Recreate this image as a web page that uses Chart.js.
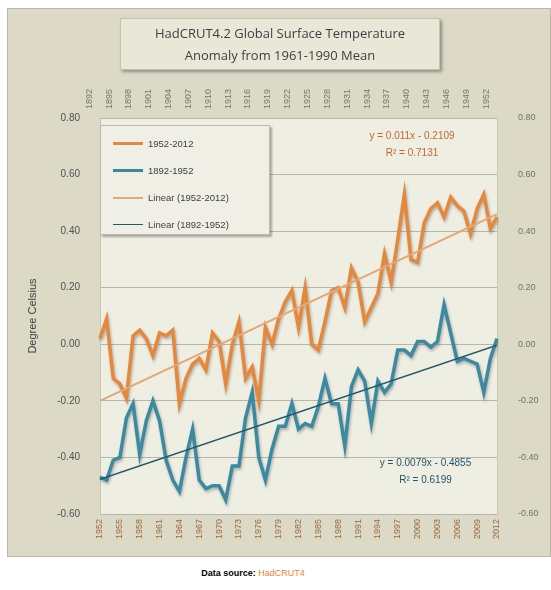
<!DOCTYPE html>
<html>
<head>
<meta charset="utf-8">
<script src="https://cdn.jsdelivr.net/npm/chart.js@4/dist/chart.umd.min.js"></script>
<style>
  html, body { margin: 0; padding: 0; background: #ffffff; width: 551px; height: 590px; overflow: hidden; }
  #panel { position: absolute; left: 7px; top: 8px; width: 544px; height: 549px; box-sizing: border-box;
           background: #dcd9c6; border: 1px solid #b9b6a4; }
  #cv { position: absolute; left: 0; top: 0; }
  #title { position: absolute; left: 120px; top: 18px; width: 320px; height: 52px; box-sizing: border-box;
           background: #e9e7d8; border: 1px solid #c6c2ae; box-shadow: 2px 2px 3px rgba(0,0,0,0.35);
           font-family: "Open Sans", "Liberation Sans", sans-serif; font-size: 13px; color: #3f3f3f;
           text-align: center; line-height: 22px; padding-top: 3px; }
  #legend { position: absolute; left: 100px; top: 125px; width: 170px; height: 110px; box-sizing: border-box;
            background: #f0efe5; border: 1px solid #bdbaa9; box-shadow: 2px 2px 2px rgba(0,0,0,0.3);
            font-family: "Liberation Sans", sans-serif; font-size: 9.5px; color: #404040; padding-top: 4px; }
  .lrow { height: 27px; display: flex; align-items: center; }
  .lsw { width: 30px; margin-left: 12px; margin-right: 5px; }
  .eq { position: absolute; font-family: "Liberation Sans", sans-serif; font-size: 10px; text-align: center; line-height: 17px; }
  #src { position: absolute; left: 0; width: 506px; top: 568px; text-align: center;
         font-family: "Liberation Sans", sans-serif; font-size: 9px; }
</style>
</head>
<body>
<div id="panel"><canvas id="cv" width="542" height="547"></canvas></div>
<div id="title">HadCRUT4.2 Global Surface Temperature<br>Anomaly from 1961-1990 Mean</div>
<div id="legend"></div>
<div class="eq" id="eq1" style="left:352px; top:127px; width:120px; color:#c2672c;">y = 0.011x - 0.2109<br>R² = 0.7131</div>
<div class="eq" id="eq2" style="left:358px; top:454px; width:135px; color:#24566a;">y = 0.0079x - 0.4855<br>R² = 0.6199</div>
<div id="src"><b style="color:#000">Data source:</b> <span style="color:#e8843a">HadCRUT4</span></div>
<script>
// ---- data ----
const recentYears = [1952,1953,1954,1955,1956,1957,1958,1959,1960,1961,1962,1963,1964,1965,1966,1967,1968,1969,1970,1971,
  1972,1973,1974,1975,1976,1977,1978,1979,1980,1981,1982,1983,1984,1985,1986,1987,1988,1989,1990,1991,
  1992,1993,1994,1995,1996,1997,1998,1999,2000,2001,2002,2003,2004,2005,2006,2007,2008,2009,2010,2011,2012];
const earlyYears = [1892,1893,1894,1895,1896,1897,1898,1899,1900,1901,1902,1903,1904,1905,1906,1907,1908,1909,1910,1911,
  1912,1913,1914,1915,1916,1917,1918,1919,1920,1921,1922,1923,1924,1925,1926,1927,1928,1929,1930,1931,
  1932,1933,1934,1935,1936,1937,1938,1939,1940,1941,1942,1943,1944,1945,1946,1947,1948,1949,1950,1951,1952];
const recentAnomaly = [0.02,0.09,-0.12,-0.14,-0.19,0.03,0.05,0.02,-0.04,0.04,0.03,0.05,-0.21,-0.12,-0.07,-0.05,-0.09,0.04,0.01,-0.14,
  0.00,0.08,-0.12,-0.08,-0.20,0.06,0.00,0.09,0.15,0.19,0.06,0.20,0.00,-0.02,0.08,0.19,0.20,0.13,0.27,0.22,
  0.08,0.13,0.18,0.32,0.22,0.37,0.53,0.30,0.29,0.43,0.48,0.50,0.45,0.52,0.49,0.47,0.39,0.48,0.53,0.41,0.45];
const earlyAnomaly = [-0.47,-0.48,-0.41,-0.40,-0.26,-0.21,-0.39,-0.27,-0.20,-0.27,-0.41,-0.48,-0.52,-0.40,-0.30,-0.48,-0.51,-0.50,-0.50,-0.55,
  -0.43,-0.43,-0.26,-0.17,-0.40,-0.48,-0.37,-0.29,-0.29,-0.21,-0.30,-0.28,-0.29,-0.22,-0.12,-0.21,-0.21,-0.36,-0.15,-0.09,
  -0.13,-0.28,-0.13,-0.17,-0.14,-0.02,-0.02,-0.04,0.01,0.01,-0.01,0.01,0.14,0.04,-0.06,-0.05,-0.06,-0.07,-0.17,-0.05,0.02];
// trendline coefficients as printed on the chart (x = 1 .. 61)
const recentTrend = { slope: 0.011, intercept: -0.2109 };
const earlyTrend = { slope: 0.0079, intercept: -0.4855 };
const yTicks = [-0.6, -0.4, -0.2, 0, 0.2, 0.4, 0.6, 0.8];
const seriesNames = ['1952-2012', '1892-1952', 'Linear (1952-2012)', 'Linear (1892-1952)'];

const n = recentYears.length;
function trendPts(t) {
  return [{x: 0, y: t.slope * 1 + t.intercept}, {x: n - 1, y: t.slope * n + t.intercept}];
}

const colors = ['#e5883b', '#3b8aa2', '#e3a877', '#22596a'];
const widths = [3.5, 3.5, 2, 1.5];

const plotBg = {
  id: 'plotBg',
  beforeDraw(chart) {
    const {ctx, chartArea: a} = chart;
    ctx.save();
    ctx.fillStyle = '#efeee3';
    ctx.fillRect(a.left, a.top, a.right - a.left, a.bottom - a.top);
    ctx.strokeStyle = '#c9c6b6';
    ctx.lineWidth = 1;
    ctx.strokeRect(a.left + 0.5, a.top + 0.5, a.right - a.left, a.bottom - a.top);
    ctx.restore();
  },
  beforeDatasetDraw(chart, args) {
    const ctx = chart.ctx;
    ctx.save();
    if (args.index < 2) {
      ctx.shadowColor = 'rgba(0,0,0,0.28)';
      ctx.shadowBlur = 3;
      ctx.shadowOffsetX = 1;
      ctx.shadowOffsetY = 2;
    }
  },
  afterDatasetDraw(chart) { chart.ctx.restore(); }
};

const xTickCb = (labels) => function(val, idx) { return idx % 3 === 0 ? String(labels[idx]) : null; };

new Chart(document.getElementById('cv'), {
  type: 'line',
  data: {
    labels: recentYears,
    datasets: [
      { label: seriesNames[0], data: recentAnomaly, borderColor: colors[0], borderWidth: widths[0], pointRadius: 0, tension: 0, order: 2, xAxisID: 'x', yAxisID: 'y' },
      { label: seriesNames[1], data: earlyAnomaly, borderColor: colors[1], borderWidth: widths[1], pointRadius: 0, tension: 0, order: 3, xAxisID: 'x', yAxisID: 'y' },
      { label: seriesNames[2], data: trendPts(recentTrend), borderColor: colors[2], borderWidth: widths[2], pointRadius: 0, order: 0, xAxisID: 'xl', yAxisID: 'y' },
      { label: seriesNames[3], data: trendPts(earlyTrend), borderColor: colors[3], borderWidth: widths[3], pointRadius: 0, order: 1, xAxisID: 'xl', yAxisID: 'y' }
    ]
  },
  options: {
    responsive: false,
    animation: false,
    layout: { padding: { left: 14, right: 0, top: 0, bottom: 0 } },
    plugins: { legend: { display: false }, tooltip: { enabled: false } },
    scales: {
      x: {
        type: 'category', position: 'bottom', offset: false,
        grid: { display: false, drawTicks: false }, border: { display: false },
        ticks: { autoSkip: false, minRotation: 90, maxRotation: 90, padding: 5, color: '#9a6a3e',
                 font: { family: 'Liberation Sans', size: 9 }, callback: xTickCb(recentYears) },
        afterFit(s) { s.height = 42; }
      },
      x2: {
        type: 'category', position: 'top', offset: false, labels: earlyYears,
        grid: { display: false, drawTicks: false }, border: { display: false },
        ticks: { autoSkip: false, minRotation: 90, maxRotation: 90, padding: 9, color: '#6f7a62',
                 font: { family: 'Liberation Sans', size: 9 }, callback: xTickCb(earlyYears) },
        afterFit(s) { s.height = 109; }
      },
      xl: { type: 'linear', display: false, min: 0, max: n - 1 },
      y: {
        position: 'left', min: yTicks[0], max: yTicks[yTicks.length - 1],
        afterBuildTicks(s) { s.ticks = yTicks.map(v => ({ value: v })); },
        grid: { color: '#b9b6a8', lineWidth: 1, drawTicks: false }, border: { display: false },
        ticks: { padding: 20, color: '#505050', font: { family: 'Liberation Sans', size: 10 }, callback: v => v.toFixed(2) },
        title: { display: true, text: 'Degree Celsius', color: '#404040', font: { family: 'Liberation Sans', size: 11 } },
        afterFit(s) { s.width = 78; }
      },
      y2: {
        position: 'right', min: yTicks[0], max: yTicks[yTicks.length - 1],
        afterBuildTicks(s) { s.ticks = yTicks.map(v => ({ value: v })); },
        grid: { display: false, drawTicks: false }, border: { display: false },
        ticks: { padding: 21, color: '#707070', font: { family: 'Liberation Sans', size: 9 }, callback: v => v.toFixed(2) },
        afterFit(s) { s.width = 53; }
      }
    }
  },
  plugins: [plotBg]
});

// legend from dataset styles
const lg = document.getElementById('legend');
seriesNames.forEach((name, i) => {
  const row = document.createElement('div');
  row.className = 'lrow';
  const sw = document.createElement('div');
  sw.className = 'lsw';
  sw.style.height = Math.max(1.5, widths[i]) + 'px';
  sw.style.background = colors[i];
  const tx = document.createElement('span');
  tx.textContent = name;
  row.appendChild(sw); row.appendChild(tx);
  lg.appendChild(row);
});
</script>
</body>
</html>
